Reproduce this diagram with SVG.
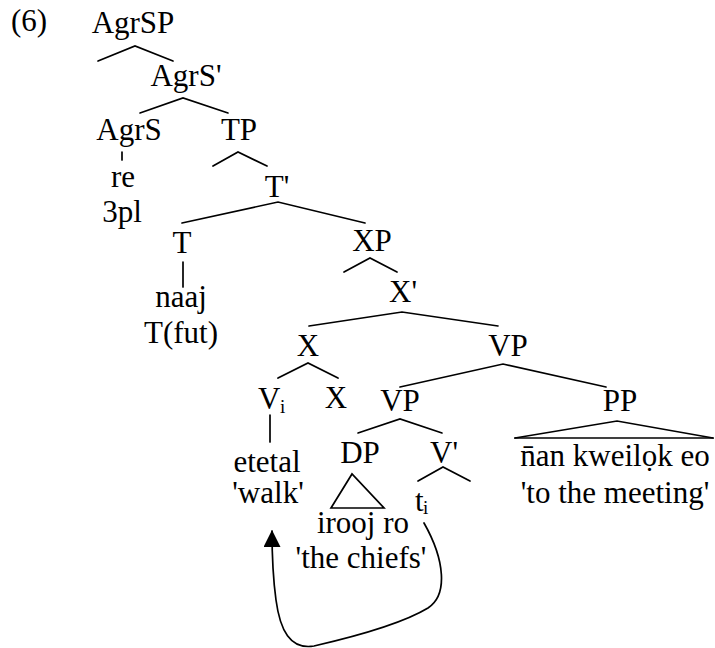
<svg xmlns="http://www.w3.org/2000/svg" width="715" height="648" viewBox="0 0 715 648">
<style>
.t text{font-family:"Liberation Serif","Times New Roman",serif;font-size:31px;fill:#000}
.t .c{text-anchor:middle}
.t .sub{font-size:19px}
.ln{stroke:#000;stroke-width:1.7;fill:none;stroke-linecap:round}
</style>
<defs>
<marker id="ah" viewBox="0 0 16 16" refX="15" refY="8" markerWidth="17" markerHeight="17" markerUnits="userSpaceOnUse" orient="auto">
<path d="M0,0 L16,8 L0,16 z" fill="#000"/>
</marker>
</defs>
<rect width="715" height="648" fill="#fff"/>
<g class="t">
<text x="11" y="31">(6)</text>
<g id="n-agrsp"><text class="c" x="133" y="33">AgrSP</text></g>
<g id="n-agrsbar"><text class="c" x="186" y="86">AgrS'</text></g>
<g id="n-agrs"><text class="c" x="129" y="140">AgrS</text></g>
<g id="n-tp"><text class="c" x="239" y="140">TP</text></g>
<g id="n-re"><text class="c" x="123" y="187">re</text><text class="c" x="122" y="222">3pl</text></g>
<g id="n-tbar"><text class="c" x="277" y="197">T'</text></g>
<g id="n-t"><text class="c" x="182" y="253">T</text></g>
<g id="n-xp"><text class="c" x="372" y="251">XP</text></g>
<g id="n-naaj"><text class="c" x="181" y="307">naaj</text><text class="c" x="181" y="343">T(fut)</text></g>
<g id="n-xbar"><text class="c" x="403" y="302">X'</text></g>
<g id="n-x"><text class="c" x="308" y="356">X</text></g>
<g id="n-vp"><text class="c" x="508" y="356">VP</text></g>
<g id="n-vi"><text x="258" y="409">V</text><text class="sub" x="280" y="413">i</text></g>
<g id="n-x2"><text class="c" x="336" y="408">X</text></g>
<g id="n-vp2"><text class="c" x="400" y="411">VP</text></g>
<g id="n-pp"><text class="c" x="620" y="411">PP</text></g>
<g id="n-dp"><text class="c" x="360" y="463">DP</text></g>
<g id="n-vbar"><text class="c" x="444" y="463">V'</text></g>
<g id="n-etetal"><text class="c" x="267" y="472">etetal</text><text class="c" x="268" y="503">'walk'</text></g>
<g id="n-pplex"><text class="c" x="615" y="466">n&#x304;an kweil&#x1ECD;k eo</text><text class="c" x="615" y="503">'to the meeting'</text></g>
<g id="n-ti"><text x="415" y="511">t</text><text class="sub" x="423" y="514">i</text></g>
<g id="n-irooj"><text class="c" x="363" y="533">irooj ro</text><text class="c" x="361" y="568">'the chiefs'</text></g>
</g>
<g id="connectors">
<path class="ln" d="M98,61 L135,46 L173,61"/>
<path class="ln" d="M140,113 L183,98 L228,113"/>
<path class="ln" d="M122,152 L122,160"/>
<path class="ln" d="M213,166 L238,152 L267,166"/>
<path class="ln" d="M182,223 L278,202 L365,223"/>
<path class="ln" d="M183,262 L183,287"/>
<path class="ln" d="M344,272 L370,258 L397,272"/>
<path class="ln" d="M309,326 L402,312 L498,326"/>
<path class="ln" d="M278,378 L308,363 L338,378"/>
<path class="ln" d="M400,387 L503,364 L606,387"/>
<path class="ln" d="M270,415 L270,442"/>
<path class="ln" d="M358,433 L400,419 L442,433"/>
<path class="ln" d="M515,438 L617,421 L713,438"/>
<path class="ln" d="M515,438 L713,438" stroke-width="2.3"/>
<path class="ln" d="M331,508 L352,474 L384,508 Z"/>
<path class="ln" d="M418,481 L443,467 L470,481"/>
<path class="ln" d="M424,523 C445,560 448,595 428,608 C400,625 340,640 314,646 C290,650 280,630 276,600 C273,578 272,560 272,531" marker-end="url(#ah)"/>
</g>
</svg>
